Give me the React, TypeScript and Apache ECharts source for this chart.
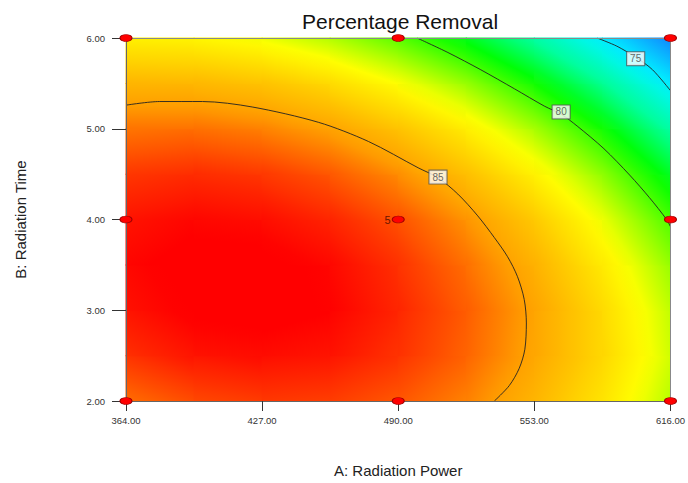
import React, { useEffect, useRef } from "react";
import * as echarts from "echarts";

// Node positions of the read grid (A: Radiation Power, B: Radiation Time)
const A_NODES = [364, 395.5, 427, 458.5, 490, 521.5, 553, 584.5, 616];
const B_NODES = [2, 2.5, 3, 3.5, 4, 4.5, 5, 5.5, 6];
// Percentage removal read at each node (rows: B ascending, columns: A ascending)
const REMOVAL_GRID = [
  [85.8, 86.4, 86.7, 86.6, 86.2, 85.5, 84.4, 83.0, 81.3],
  [86.8, 87.3, 87.4, 87.3, 86.8, 86.0, 84.8, 83.4, 81.6],
  [87.3, 87.7, 87.8, 87.6, 87.0, 86.1, 84.9, 83.3, 81.4],
  [87.5, 87.8, 87.8, 87.5, 86.8, 85.8, 84.5, 82.8, 80.9],
  [87.3, 87.5, 87.4, 87.0, 86.3, 85.2, 83.8, 82.0, 79.9],
  [86.7, 86.9, 86.7, 86.2, 85.3, 84.1, 82.6, 80.8, 78.6],
  [85.7, 85.8, 85.5, 84.9, 84.0, 82.7, 81.1, 79.2, 76.9],
  [84.4, 84.3, 84.0, 83.3, 82.2, 80.9, 79.2, 77.2, 74.8],
  [82.6, 82.5, 82.0, 81.2, 80.1, 78.7, 76.9, 74.8, 72.3],
];

// Contour lines
const CONTOUR_85 = [
  [364, 5.26], [379.6, 5.3], [399.4, 5.3], [422.4, 5.24], [453.2, 5.07],
  [476.2, 4.86], [499.2, 4.57], [508.4, 4.46], [517.6, 4.28], [526.8, 4.04],
  [534.5, 3.8], [540.6, 3.59], [545.2, 3.37], [548.3, 3.12], [549.3, 2.86],
  [548.6, 2.57], [546.0, 2.36], [541.4, 2.17], [534.5, 2.0],
];
const CONTOUR_80 = [
  [498.7, 6.0], [513.0, 5.84], [528.2, 5.65], [543.8, 5.44], [557.6, 5.25],
  [565.4, 5.16], [572.8, 5.03], [585.2, 4.78], [597.1, 4.49], [606.3, 4.24],
  [614.2, 4.0], [616, 3.92],
];
const CONTOUR_75 = [
  [582, 6.0], [591.2, 5.91], [600.4, 5.78], [607.7, 5.65], [616, 5.42],
];
const CONTOUR_LABELS: [number, number, string][] = [
  [508.4, 4.467, "85"],
  [565.4, 5.185, "80"],
  [599.9, 5.772, "75"],
];

// Design points [A, B, replicates]
const DESIGN_POINTS = [
  [364, 2, 1], [364, 4, 1], [364, 6, 1],
  [490, 2, 1], [490, 4, 5], [490, 6, 1],
  [616, 2, 1], [616, 4, 1], [616, 6, 1],
];

const X_TICKS = [364, 427, 490, 553, 616];

const COLOR_STOPS: [number, string][] = [
  [72.0, "#1478ff"],
  [75.0, "#00f4ff"],
  [77.2, "#00ff96"],
  [79.0, "#00ff00"],
  [82.2, "#ffff00"],
  [85.0, "#ffa000"],
  [87.6, "#ff0000"],
];

const FONT = "Liberation Sans, Arial, Helvetica, sans-serif";

function hexToRgb(h: string) {
  const n = parseInt(h.slice(1), 16);
  return [(n >> 16) & 255, (n >> 8) & 255, n & 255];
}
const STOP_RGB = COLOR_STOPS.map((s) => [s[0], hexToRgb(s[1])] as [number, number[]]);

function colorFor(v: number) {
  if (v <= STOP_RGB[0][0]) {
    const c = STOP_RGB[0][1];
    return `rgb(${c[0]},${c[1]},${c[2]})`;
  }
  for (let k = 1; k < STOP_RGB.length; k++) {
    if (v <= STOP_RGB[k][0]) {
      const [v0, c0] = STOP_RGB[k - 1];
      const [v1, c1] = STOP_RGB[k];
      const t = (v - v0) / (v1 - v0);
      const c = c0.map((x, i) => Math.round(x + (c1[i] - x) * t));
      return `rgb(${c[0]},${c[1]},${c[2]})`;
    }
  }
  const c = STOP_RGB[STOP_RGB.length - 1][1];
  return `rgb(${c[0]},${c[1]},${c[2]})`;
}

export default function App() {
  const ref = useRef<HTMLDivElement>(null);
  useEffect(() => {
    if (!ref.current) return;
    const chart = echarts.init(ref.current, null, { renderer: "svg" });

    const cells: number[][] = [];
    for (let j = 0; j < B_NODES.length - 1; j++) {
      for (let i = 0; i < A_NODES.length - 1; i++) {
        cells.push([
          A_NODES[i], B_NODES[j], A_NODES[i + 1], B_NODES[j + 1],
          REMOVAL_GRID[j][i], REMOVAL_GRID[j][i + 1],
          REMOVAL_GRID[j + 1][i], REMOVAL_GRID[j + 1][i + 1],
        ]);
      }
    }

    const renderItem = (params: any, api: any) => {
      const a0 = api.value(0), b0 = api.value(1), a1 = api.value(2), b1 = api.value(3);
      const vBL = api.value(4), vBR = api.value(5), vTL = api.value(6), vTR = api.value(7);
      const p0 = api.coord([a0, b1]);
      const p1 = api.coord([a1, b0]);
      const bx = (vTR + vBR - vTL - vBL) / 2;
      const by = (vBL + vBR - vTL - vTR) / 2;
      const vc = (vBL + vBR + vTL + vTR) / 4;
      const half = (Math.abs(bx) + Math.abs(by)) / 2;
      const g2 = bx * bx + by * by;
      let fill: any;
      if (g2 < 1e-8) {
        fill = colorFor(vc);
      } else {
        const h = half / g2;
        const stops = [];
        const N = 6;
        for (let k = 0; k <= N; k++) {
          const t = k / N;
          stops.push({ offset: t, color: colorFor(vc - half + 2 * half * t) });
        }
        fill = {
          type: "linear",
          x: 0.5 - bx * h,
          y: 0.5 - by * h,
          x2: 0.5 + bx * h,
          y2: 0.5 + by * h,
          colorStops: stops,
          global: false,
        };
      }
      return {
        type: "rect",
        shape: {
          x: p0[0] - 0.5,
          y: p0[1] - 0.5,
          width: p1[0] - p0[0] + 1,
          height: p1[1] - p0[1] + 1,
        },
        style: { fill },
      };
    };

    const lineSeries = (data: number[][]) => ({
      type: "line",
      data,
      smooth: 0.3,
      symbol: "none",
      silent: true,
      z: 5,
      lineStyle: { color: "#222", width: 0.9 },
    });

    const axisCommonHidden = {
      axisTick: { show: false },
      axisLabel: { show: false },
      splitLine: { show: false },
    };

    chart.setOption({
      animation: false,
      backgroundColor: "#ffffff",
      grid: { left: 126, top: 38, right: 14, bottom: 77, containLabel: false },
      graphic: [
        {
          type: "text",
          x: 400,
          y: 21,
          style: {
            text: "Percentage Removal",
            textAlign: "center",
            textVerticalAlign: "middle",
            fontSize: 21,
            fontFamily: FONT,
            fill: "#111",
          },
        },
      ],
      xAxis: [
        {
          type: "value",
          min: 364,
          max: 616,
          position: "bottom",
          z: 10,
          name: "A: Radiation Power",
          nameLocation: "middle",
          nameGap: 62,
          nameTextStyle: { fontSize: 15, fontFamily: FONT, color: "#222" },
          axisLine: { show: true, onZero: false, lineStyle: { color: "#666", width: 1 } },
          axisTick: { show: true, customValues: X_TICKS, length: 10, lineStyle: { color: "#333" } },
          axisLabel: {
            customValues: X_TICKS,
            formatter: (v: number) => v.toFixed(2),
            fontSize: 9.5,
            fontFamily: FONT,
            color: "#333",
            margin: 14,
          },
          splitLine: { show: false },
        },
        {
          type: "value",
          min: 364,
          max: 616,
          position: "top",
          z: 10,
          axisLine: { show: true, onZero: false, lineStyle: { color: "#888", width: 1 } },
          ...axisCommonHidden,
        },
      ],
      yAxis: [
        {
          type: "value",
          min: 2,
          max: 6,
          interval: 1,
          position: "left",
          z: 10,
          name: "B: Radiation Time",
          nameLocation: "middle",
          nameGap: 98,
          nameTextStyle: { fontSize: 15, fontFamily: FONT, color: "#222" },
          axisLine: { show: true, onZero: false, lineStyle: { color: "#666", width: 1 } },
          axisTick: { show: true, length: 14, lineStyle: { color: "#333" } },
          axisLabel: {
            formatter: (v: number) => v.toFixed(2),
            fontSize: 9.5,
            fontFamily: FONT,
            color: "#333",
            margin: 21,
          },
          splitLine: { show: false },
        },
        {
          type: "value",
          min: 2,
          max: 6,
          position: "right",
          z: 10,
          axisLine: { show: true, onZero: false, lineStyle: { color: "#888", width: 1 } },
          ...axisCommonHidden,
        },
      ],
      series: [
        {
          type: "custom",
          renderItem,
          data: cells,
          encode: { x: [0, 2], y: [1, 3] },
          silent: true,
          z: 1,
        },
        lineSeries(CONTOUR_85),
        lineSeries(CONTOUR_80),
        lineSeries(CONTOUR_75),
        {
          type: "scatter",
          data: CONTOUR_LABELS.map((d) => ({ value: [d[0], d[1]], name: d[2] })),
          symbolSize: 0.1,
          itemStyle: { color: "transparent" },
          silent: true,
          z: 6,
          label: {
            show: true,
            position: "inside",
            formatter: (p: any) => p.name,
            backgroundColor: "#ffffff",
            borderColor: "#555",
            borderWidth: 1,
            padding: [2, 3, 1, 3],
            fontSize: 10,
            fontFamily: FONT,
            color: "#444",
          },
        },
        {
          type: "scatter",
          data: DESIGN_POINTS.map((d) => ({ value: [d[0], d[1]], reps: d[2] })),
          symbol: "circle",
          symbolSize: [12, 7],
          clip: false,
          silent: true,
          z: 12,
          itemStyle: { color: "#ff0000", borderColor: "#a00000", borderWidth: 0.8, opacity: 1 },
          label: {
            show: true,
            position: "left",
            distance: 1,
            formatter: (p: any) => (p.data.reps > 1 ? String(p.data.reps) : ""),
            fontSize: 11,
            fontFamily: FONT,
            color: "#6b1500",
          },
        },
      ],
    });

    return () => chart.dispose();
  }, []);

  return (
    <div
      ref={ref}
      style={{ position: "fixed", left: 0, top: 0, width: 688, height: 483, background: "#fff" }}
    />
  );
}
